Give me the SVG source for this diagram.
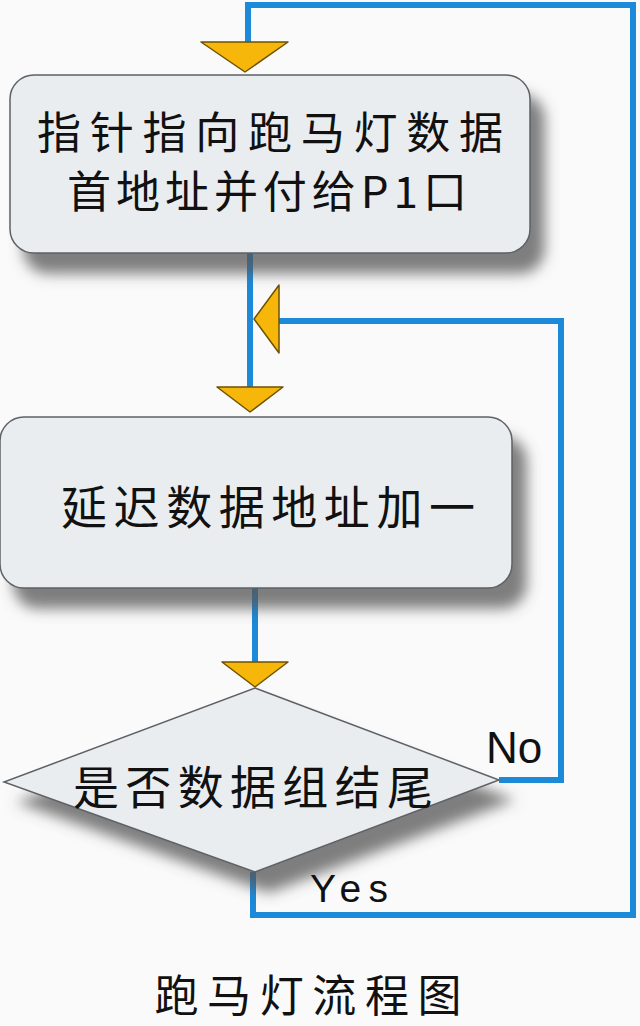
<svg xmlns="http://www.w3.org/2000/svg" xmlns:xlink="http://www.w3.org/1999/xlink" width="640" height="1026" viewBox="0 0 640 1026">
  <style>
    .bg { fill: #FAFAFB; }
    .wire { fill: none; stroke: #1C8AD9; stroke-width: 6; stroke-linejoin: miter; }
    .node { fill: #E9EDF0; stroke: #5E6266; stroke-width: 1.5; }
    .arrow { fill: #F7B70A; stroke: #6E5200; stroke-width: 1.5; stroke-linejoin: round; }
    .cjk { font-family: "Noto Sans CJK SC", "Noto Sans", sans-serif; fill: #111; }
    .lat { font-family: "Liberation Sans", "DejaVu Sans", sans-serif; fill: #111; }
  </style>
  <defs>
    <filter id="shadow" x="-10%" y="-10%" width="130%" height="140%">
      <feGaussianBlur in="SourceAlpha" stdDeviation="7"/>
      <feOffset dx="14" dy="20" result="b"/>
      <feFlood flood-color="#555" flood-opacity="0.75"/>
      <feComposite in2="b" operator="in" result="s"/>
      <feMerge><feMergeNode in="s"/><feMergeNode in="SourceGraphic"/></feMerge>
    </filter>
    <polygon id="tri-down" class="arrow" points="-33,0 33,0 0,25"/>
  </defs>

  <rect class="bg" x="0" y="0" width="640" height="1026"/>

  <g id="connectors">
    <polyline class="wire" points="248,44 248,5 633,5 633,915 253,915 253,872"/>
    <line class="wire" x1="250" y1="253" x2="250" y2="390"/>
    <polyline class="wire" points="499,780 561,780 561,321 276,321"/>
    <line class="wire" x1="255" y1="588" x2="255" y2="664"/>
    <polygon class="arrow" points="201,42 288,42 245,72"/>
    <use xlink:href="#tri-down" x="250" y="387"/>
    <use xlink:href="#tri-down" x="255" y="662"/>
    <polygon class="arrow" points="254,319 279,285 279,353"/>
  </g>

  <g id="node-init">
    <rect class="node" x="10" y="75" width="520" height="178" rx="24" filter="url(#shadow)"/>
    <text class="cjk" x="270" y="149" font-size="44" text-anchor="middle" textLength="466" lengthAdjust="spacing">指针指向跑马灯数据</text>
    <text class="cjk" x="267" y="208" font-size="44" text-anchor="middle" textLength="400" lengthAdjust="spacing">首地址并付给P1口</text>
  </g>

  <g id="node-delay">
    <rect class="node" x="0" y="417" width="512" height="171" rx="24" filter="url(#shadow)"/>
    <text class="cjk" x="268" y="524" font-size="46" text-anchor="middle" textLength="414" lengthAdjust="spacing">延迟数据地址加一</text>
  </g>

  <g id="node-decision">
    <polygon class="node" points="255,688 499,780 255,872 4,782" filter="url(#shadow)"/>
    <text class="cjk" x="253" y="804" font-size="46" text-anchor="middle" textLength="360" lengthAdjust="spacing">是否数据组结尾</text>
  </g>

  <g id="labels">
    <text class="lat" x="486" y="763" font-size="44">No</text>
    <text class="lat" x="310" y="902" font-size="39" textLength="78" lengthAdjust="spacing">Yes</text>
    <text class="cjk" x="308" y="1012" font-size="44" text-anchor="middle" textLength="307" lengthAdjust="spacing">跑马灯流程图</text>
  </g>
</svg>
